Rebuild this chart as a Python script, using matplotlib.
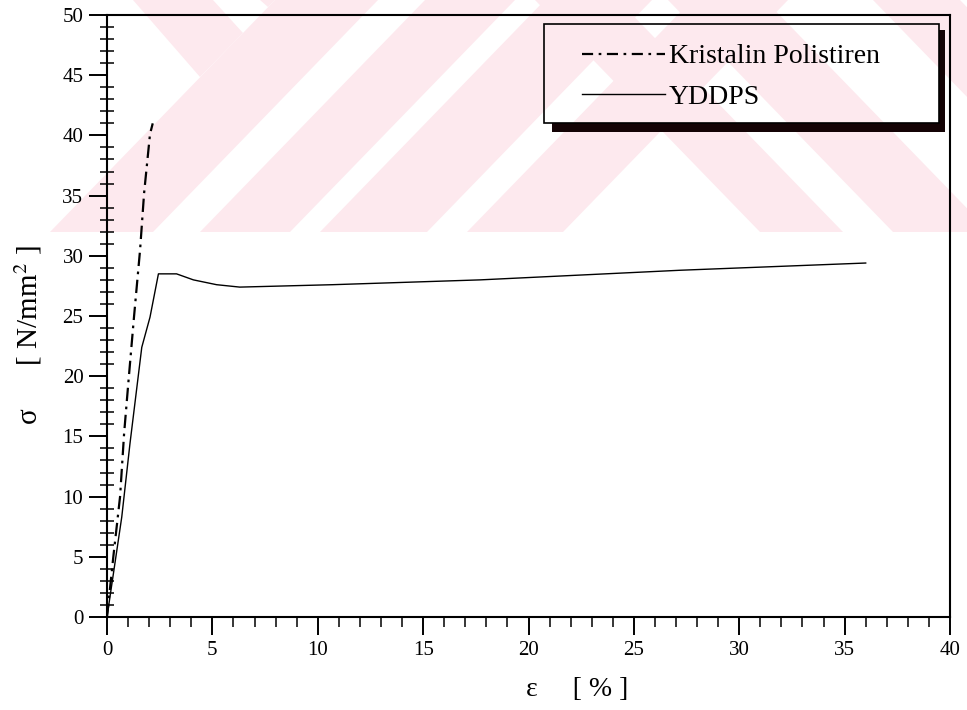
import numpy as np
import matplotlib
matplotlib.use('Agg')
import matplotlib.pyplot as plt
from matplotlib.lines import Line2D
from matplotlib.patches import Polygon, Rectangle

plt.rcParams['font.family'] = ['Liberation Serif', 'DejaVu Serif']
plt.rcParams['mathtext.fontset'] = 'stix'

# data (strain %, stress N/mm2)
kp_strain = [0, 0.30, 0.62, 0.81, 1.01, 1.28, 1.57, 1.76, 2.04, 2.17]
kp_stress = [0, 5.0, 10.0, 15.2, 19.4, 24.9, 30.5, 35.2, 40.1, 41.0]

yd_strain = [0, 0.70, 1.09, 1.65, 2.04, 2.44, 3.3, 4.1, 5.2, 6.3, 10.7, 17.7, 27.2, 36.0]
yd_stress = [0, 8.3, 14.4, 22.4, 24.9, 28.5, 28.5, 28.0, 27.6, 27.4, 27.6, 28.0, 28.8, 29.4]

labels = ['Kristalin Polistiren', 'YDDPS']
x_ticks = [0, 5, 10, 15, 20, 25, 30, 35, 40]
y_ticks = [0, 5, 10, 15, 20, 25, 30, 35, 40, 45, 50]

W, H = 967, 710
fig = plt.figure(figsize=(W / 100, H / 100), dpi=100)
fig.patch.set_facecolor('white')

# background layer for the pink watermark stripes (pixel coords)
bg = fig.add_axes([0, 0, 1, 1], zorder=0)
bg.set_xlim(0, W)
bg.set_ylim(H, 0)
bg.axis('off')
pink = '#fde9ee'
band_y = 232
shift = 225
for a, b in [(50, 153), (200, 290), (320, 427), (467, 563)]:
    bg.add_patch(Polygon([(a, band_y), (b, band_y), (b + shift, 0), (a + shift, 0)],
                         closed=True, fc=pink, ec='none'))
for c, d in [(760, 843), (893, 990), (1098, 1185)]:
    bg.add_patch(Polygon([(c, band_y), (d, band_y), (d - shift, 0), (c - shift, 0)],
                         closed=True, fc=pink, ec='none'))
bg.add_patch(Polygon([(133, 0), (213, 0), (243, 33), (200, 77)], closed=True, fc=pink, ec='none'))
bg.add_patch(Polygon([(260, 0), (275, 0), (268, 7)], closed=True, fc=pink, ec='none'))

# legend frame + heavy drop shadow
shade = '#140305'
bg.add_patch(Rectangle((552, 123), 945 - 552, 9, fc=shade, ec='none', zorder=3))
bg.add_patch(Rectangle((939, 30), 6, 102, fc=shade, ec='none', zorder=3))
bg.add_patch(Rectangle((544, 24), 939 - 544, 123 - 24, fc='none', ec='black', lw=1.2, zorder=4))

# main axes
ax = fig.add_axes([107 / W, 1 - 617 / H, (950 - 107) / W, (617 - 15) / H], zorder=1)
ax.set_facecolor('none')

ax.plot(kp_strain, kp_stress, color='black', lw=1.6, dashes=(6, 2.5, 1.2, 2.5))
ax.plot(yd_strain, yd_stress, color='black', lw=1.0)

ax.set_xlim(0, 40)
ax.set_ylim(0, 50)
ax.set_xticks(x_ticks)
ax.set_yticks(y_ticks)
ax.set_xticks(np.arange(0, 41, 1), minor=True)
ax.set_yticks(np.arange(0, 51, 1), minor=True)
ax.tick_params(which='major', direction='out', length=13, width=1.4, labelsize=15,
               pad=4, top=False, right=False)
ax.tick_params(axis='x', which='minor', direction='out', length=7, width=1.1, top=False)
ax.tick_params(axis='y', which='minor', direction='inout', length=10, width=1.1, right=False)
for s in ax.spines.values():
    s.set_linewidth(1.5)

fig.text(577 / W, 1 - 690 / H, 'ε     [ % ]', ha='center', va='center', fontsize=20)
fig.text(28 / W, 1 - 335 / H, 'σ      [ N/mm$^2$ ]', ha='center', va='center',
         rotation=90, fontsize=21)

handles = [Line2D([], [], color='black', lw=1.6, dashes=(5, 2.5, 1.2, 2.5)),
           Line2D([], [], color='black', lw=1.0)]
leg = ax.legend(handles, labels, loc='upper left',
                bbox_to_anchor=(582 / W, 1 - 44 / H), bbox_transform=fig.transFigure,
                borderaxespad=0, borderpad=0, frameon=False,
                fontsize=20, handlelength=3.0, handletextpad=0.12,
                labelspacing=0.55)

fig.savefig('out.png', dpi=100)
